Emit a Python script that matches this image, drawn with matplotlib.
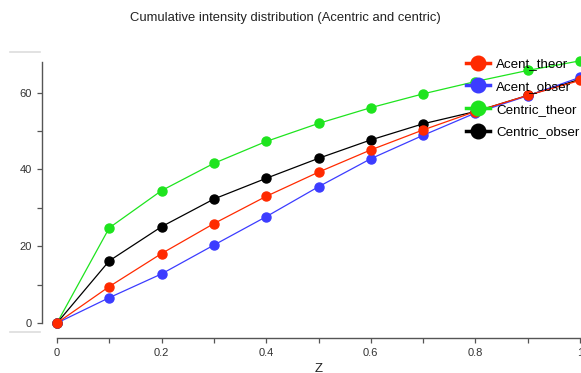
import matplotlib
matplotlib.use("Agg")
import matplotlib.pyplot as plt
from matplotlib.lines import Line2D
from matplotlib.ticker import MultipleLocator

plt.rcParams['font.family'] = ['Liberation Sans', 'DejaVu Sans']

z = [0.0, 0.1, 0.2, 0.3, 0.4, 0.5, 0.6, 0.7, 0.8, 0.9, 1.0]
acent_theor = [0.0, 9.5, 18.1, 25.9, 33.0, 39.3, 45.1, 50.3, 55.1, 59.3, 63.2]
acent_obser = [0.0, 6.6, 12.8, 20.3, 27.7, 35.5, 42.8, 48.9, 54.7, 59.2, 64.0]
centric_theor = [0.0, 24.8, 34.5, 41.6, 47.3, 52.0, 56.1, 59.7, 62.9, 65.8, 68.3]
centric_obser = [0.0, 16.2, 25.1, 32.3, 37.7, 42.9, 47.7, 51.9, 55.1, 59.3, 63.5]

labels = ["Acent_theor", "Acent_obser", "Centric_theor", "Centric_obser"]
colors = ["#ff2a00", "#3c3cff", "#1ee41e", "#000000"]

W, H = 581, 373
fig = plt.figure(figsize=(W / 100, H / 100), dpi=100)
ax = fig.add_axes([57 / W, (H - 323) / H, 523 / W, 261 / H])

series = [acent_theor, acent_obser, centric_theor, centric_obser]
# centric curves first, acentric on top (red last)
for order, idx in enumerate([2, 3, 1, 0]):
    ax.plot(z, series[idx], color=colors[idx], lw=0.9, marker='o', ms=6.5,
            mec=colors[idx], mfc=colors[idx], clip_on=False, zorder=3 + order * 0.1)

ax.set_xlim(0, 1)
ax.set_ylim(0, 68)
for s in ['top', 'right']:
    ax.spines[s].set_visible(False)
spine_col = '#555555'
ax.spines['left'].set_position(('outward', 10.8))
ax.spines['bottom'].set_position(('outward', 10.8))
ax.spines['left'].set_bounds(0, 68)
ax.spines['bottom'].set_bounds(0, 1)
for s in ['left', 'bottom']:
    ax.spines[s].set_color(spine_col)
    ax.spines[s].set_linewidth(1.0)

ax.xaxis.set_minor_locator(MultipleLocator(0.1))
ax.yaxis.set_major_locator(MultipleLocator(20))
ax.yaxis.set_minor_locator(MultipleLocator(10))
ax.set_xticks([0, 0.2, 0.4, 0.6, 0.8, 1.0])
ax.set_xticklabels(['0', '0.2', '0.4', '0.6', '0.8', '1'])
ax.tick_params(which='both', direction='out', length=3.6, width=0.9,
               color=spine_col, labelsize=8, labelcolor='#333333', pad=3.5)

ax.set_xlabel('Z', fontsize=9.5, labelpad=4, color='#222222')

fig.text(285 / W, 1 - 18 / H, 'Cumulative intensity distribution (Acentric and centric)',
         ha='center', va='center', fontsize=9.4, color='#222222')

# faint frame marks at the left edge
fig.add_artist(Line2D([10 / W, 40 / W], [1 - 52 / H, 1 - 52 / H], color='#dddddd', lw=1.2))
fig.add_artist(Line2D([10 / W, 40 / W], [1 - 332 / H, 1 - 332 / H], color='#dddddd', lw=1.2))

handles = [Line2D([], [], color=c, lw=2.5, marker='o', ms=10.5, mfc=c, mec=c) for c in colors]
fig.legend(handles, labels, loc='upper left', bbox_to_anchor=(466 / W, 1 - 58 / H),
           frameon=False, fontsize=9.6, handlelength=1.8, handletextpad=0.45,
           labelspacing=0.78, borderpad=0, borderaxespad=0)

fig.savefig('out.png', dpi=100)
